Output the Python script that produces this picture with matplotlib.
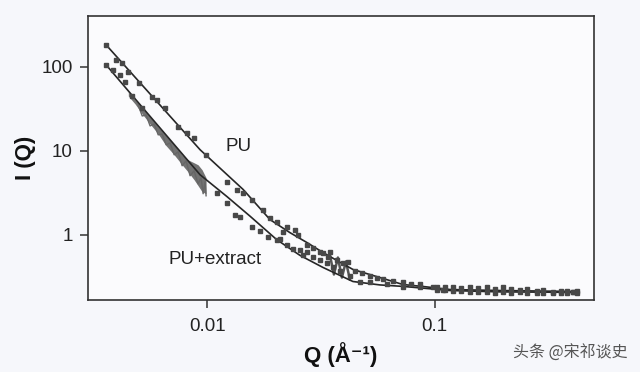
import matplotlib
matplotlib.use("Agg")
import matplotlib.pyplot as plt
from matplotlib.ticker import NullLocator

# ---- data ----
# PU scattering data
pu_q = [0.00361, 0.00399, 0.00424, 0.00451, 0.00503, 0.00574, 0.00604, 0.00655,
        0.00746, 0.00817, 0.00877, 0.0099, 0.01224, 0.01354, 0.01439, 0.01575,
        0.01762, 0.01889, 0.02028, 0.02155, 0.02244, 0.02432, 0.02506, 0.02745,
        0.02917, 0.03131, 0.03228, 0.03395, 0.0346, 0.03716, 0.03948, 0.0415,
        0.04457, 0.04786, 0.05188, 0.05567, 0.05916, 0.0655, 0.07244, 0.079,
        0.086, 0.098, 0.1021, 0.1084, 0.1111, 0.1199, 0.13, 0.1425, 0.155,
        0.169, 0.183, 0.1987, 0.215, 0.236, 0.255, 0.28, 0.30, 0.3295, 0.36,
        0.38, 0.403, 0.42]
pu_i = [181, 122, 110, 86, 64, 43.6, 40.3, 32.4,
        19.3, 16.4, 14.3, 8.97, 4.29, 3.45, 3.17, 2.62,
        2.00, 1.60, 1.44, 1.09, 1.25, 1.15, 1.01, 0.767,
        0.707, 0.634, 0.617, 0.553, 0.634, 0.509, 0.469, 0.482,
        0.367, 0.357, 0.320, 0.311, 0.295, 0.285, 0.272, 0.262,
        0.257, 0.237, 0.243, 0.224, 0.240, 0.243, 0.235, 0.243, 0.232,
        0.243, 0.230, 0.237, 0.228, 0.224, 0.226, 0.218, 0.222, 0.212, 0.218,
        0.214, 0.212, 0.214]

# PU+extract scattering data (discrete points)
ext_q = [0.00361, 0.00387, 0.00415, 0.00437, 0.00469, 0.00519,
         0.01106, 0.01224, 0.01327, 0.01395, 0.01575, 0.01708, 0.01851,
         0.02028, 0.0209, 0.02244, 0.02383, 0.02558, 0.02636, 0.02745,
         0.02917, 0.03131, 0.0336, 0.03573, 0.0383, 0.04238, 0.04688,
         0.05188, 0.06157, 0.07244, 0.086, 0.1021, 0.1111, 0.1199, 0.13,
         0.1425, 0.155, 0.169, 0.183, 0.1987, 0.215, 0.236, 0.255, 0.28,
         0.30, 0.3295, 0.36, 0.38, 0.403, 0.42]
ext_i = [104.7, 91.4, 79.8, 65.9, 44.9, 32.3,
         3.17, 2.42, 1.74, 1.65, 1.25, 1.12, 0.955,
         0.879, 0.904, 0.767, 0.688, 0.668, 0.583, 0.634,
         0.552, 0.509, 0.469, 0.420, 0.377, 0.320, 0.279,
         0.272, 0.257, 0.243, 0.237, 0.224, 0.220, 0.218, 0.214,
         0.212, 0.210, 0.207, 0.206, 0.207, 0.205, 0.207, 0.204, 0.201,
         0.203, 0.201, 0.203, 0.202, 0.207, 0.204]

# PU+extract dense noisy low-Q band (upper / lower edge)
band_q = [0.00451, 0.00483, 0.00519, 0.00562, 0.00610, 0.00661, 0.00717,
          0.00777, 0.00825, 0.00877, 0.00913, 0.00951, 0.0099]
band_hi = [50.1, 40.3, 32.4, 25.3, 19.3, 15.1, 11.8, 8.97, 7.82, 7.21, 6.82, 5.95, 4.78]
band_lo = [44.9, 36.1, 27.5, 20.9, 15.9, 11.5, 8.97, 6.82, 5.62, 4.53, 3.85, 3.26, 3.09]

# jagged texture inside the band
zig_q = [0.00498, 0.00519, 0.00540, 0.00562, 0.00586, 0.00610, 0.00635,
         0.00661, 0.00688, 0.00717, 0.00746, 0.00777, 0.00809, 0.00842,
         0.00877, 0.00913, 0.00941, 0.00961, 0.00980, 0.0099]
zig_i = [35.1, 26.0, 26.7, 19.8, 20.9, 15.5, 15.9,
         11.8, 12.4, 8.97, 9.73, 6.64, 7.61, 5.05,
         5.79, 4.06, 4.78, 3.09, 4.29, 2.92]

# PU+extract noisy cluster near Q ~ 0.035-0.045
blob_q = [0.0346, 0.03606, 0.03754, 0.03909, 0.0407, 0.04238]
blob_i = [0.583, 0.338, 0.538, 0.311, 0.482, 0.295]

# fitted curves
fit_pu_q = [0.00361, 0.00562, 0.00932, 0.0144, 0.0189, 0.0231, 0.02745, 0.0323,
            0.03716, 0.0437, 0.0574, 0.0724, 0.0904, 0.1164, 0.1928, 0.42]
fit_pu_i = [181, 47.5, 10.3, 3.47, 1.52, 1.065, 0.811, 0.617,
            0.496, 0.388, 0.311, 0.257, 0.242, 0.224, 0.218, 0.212]

fit_ext_q = [0.00361, 0.00562, 0.00932, 0.01224, 0.01544, 0.0202, 0.02558,
             0.03228, 0.0437, 0.0574, 0.0724, 0.1164, 0.1928, 0.42]
fit_ext_i = [104.7, 25.7, 5.19, 2.85, 1.67, 0.88, 0.571,
             0.41, 0.279, 0.254, 0.244, 0.218, 0.21, 0.207]

x_ticks = [0.01, 0.1]
x_ticklabels = ["0.01", "0.1"]
y_ticks = [1, 10, 100]
y_ticklabels = ["1", "10", "100"]

# ---- figure ----
plt.rcParams['font.family'] = ['Liberation Sans', 'DejaVu Sans']
bg = '#f6f7fb'
fig = plt.figure(figsize=(6.4, 3.72), dpi=100, facecolor=bg)
ax = fig.add_axes([0.1375, 0.1935, 0.7906, 0.7635])
ax.set_facecolor('#fbfbfd')
ax.set_xscale('log')
ax.set_yscale('log')
ax.set_xlim(0.003, 0.5)
ax.set_ylim(0.168, 402)

dark = '#262626'
mk = '#484848'

ax.fill_between(band_q, band_lo, band_hi, color='#727272', lw=0, zorder=2)
ax.plot(zig_q, zig_i, color='#666666', lw=1.0, zorder=2)
ax.plot(blob_q, blob_i, color='#555555', lw=1.8, zorder=2)
ax.plot(fit_pu_q, fit_pu_i, color=dark, lw=1.2, zorder=3)
ax.plot(fit_ext_q, fit_ext_i, color=dark, lw=1.2, zorder=3)
ax.plot(pu_q, pu_i, ls='none', marker='s', ms=3.3, color=mk, mec=mk, zorder=4)
ax.plot(ext_q, ext_i, ls='none', marker='s', ms=3.3, color=mk, mec=mk, zorder=4)

ax.text(0.0138, 11.2, "PU", ha='center', va='center', fontsize=13.5, color='#222222')
ax.text(0.01084, 0.516, "PU+extract", ha='center', va='center', fontsize=13.5,
        color='#222222')

ax.set_xticks(x_ticks)
ax.set_xticklabels(x_ticklabels)
ax.set_yticks(y_ticks)
ax.set_yticklabels(y_ticklabels)
ax.xaxis.set_minor_locator(NullLocator())
ax.yaxis.set_minor_locator(NullLocator())
ax.tick_params(axis='both', direction='out', length=6, width=1.1, colors='#333333',
               labelsize=13.5, labelcolor='#222222')
ax.tick_params(axis='x', pad=7)
ax.tick_params(axis='y', pad=5)
for s in ax.spines.values():
    s.set_color('#333333')
    s.set_linewidth(1.2)

ax.set_xlabel("Q (Å⁻¹)", fontsize=16, fontweight='bold', labelpad=5, color='#111111')
ax.set_ylabel("I (Q)", fontsize=16, fontweight='bold', labelpad=4, color='#111111')

fig.text(0.981, 0.051, "头条 @宋祁谈史", ha='right', va='center', fontsize=11.5,
         color='#555555', family=['Noto Sans CJK SC', 'DejaVu Sans'])

fig.savefig("out.png", dpi=100, facecolor=bg)
